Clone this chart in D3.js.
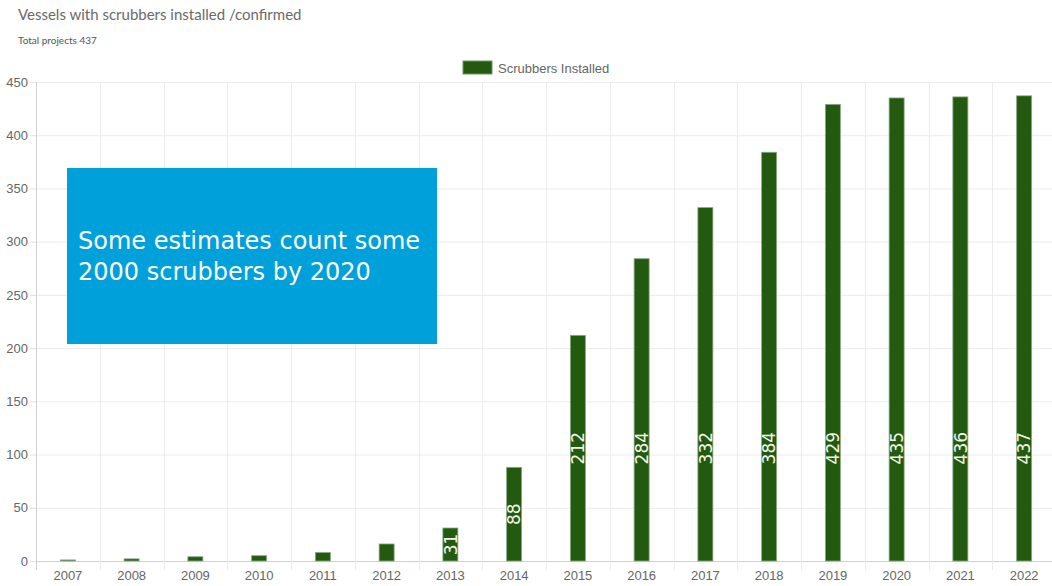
<!DOCTYPE html>
<meta charset="utf-8">
<style>
  body { margin: 0; background: #fff; }
  #chart { font-family: "Liberation Sans", Arial, sans-serif; }
</style>
<body>
<div id="chart"></div>
<script src="https://cdnjs.cloudflare.com/ajax/libs/d3/7.8.5/d3.min.js"></script>
<script>

// data
var years = ["2007","2008","2009","2010","2011","2012","2013","2014","2015","2016","2017","2018","2019","2020","2021","2022"];
var installed = [1, 2, 4, 5, 8, 16, 31, 88, 212, 284, 332, 384, 429, 435, 436, 437];
var labelled = ["2013","2014","2015","2016","2017","2018","2019","2020","2021","2022"];
var yTicks = [0, 50, 100, 150, 200, 250, 300, 350, 400, 450];

var W = 1052, H = 586;
var margin = {top: 82, right: -4, bottom: 25, left: 36},
  width = W - margin.left - margin.right,
  height = H - margin.top - margin.bottom;

var svg = d3.select("#chart").append("svg")
  .attr("width", W)
  .attr("height", H);

// titles
svg.append("text")
  .attr("x", 18).attr("y", 20)
  .style("font-family", "Lato, 'Open Sans', sans-serif")
  .style("font-size", "15px")
  .style("fill", "#6a6a6a")
  .text("Vessels with scrubbers installed /confirmed");

svg.append("text")
  .attr("x", 18).attr("y", 44)
  .style("font-family", "Lato, 'Open Sans', sans-serif")
  .style("font-size", "10px")
  .style("fill", "#555")
  .text("Total projects 437");

// legend
svg.append("rect")
  .attr("x", 463).attr("y", 61)
  .attr("width", 29).attr("height", 13)
  .style("fill", "#235a10")
  .style("stroke", "#6f9566")
  .style("stroke-width", 1);
svg.append("text")
  .attr("x", 498).attr("y", 72.5)
  .style("font-size", "13px")
  .style("fill", "#666")
  .text("Scrubbers Installed");

var g = svg.append("g")
  .attr("transform", "translate(" + margin.left + "," + margin.top + ")");

var x = d3.scaleBand()
  .domain(years)
  .range([0, width]);

var y = d3.scaleLinear()
  .domain([0, 450])
  .range([height, 0]);

// grid
g.append("g")
  .selectAll("line")
  .data(yTicks)
  .enter().append("line")
  .attr("x1", 0).attr("x2", width)
  .attr("y1", function(d) { return y(d) + 0.5; })
  .attr("y2", function(d) { return y(d) + 0.5; })
  .style("stroke", function(d) { return d == 0 ? "#d0d0d0" : "#ebebeb"; });

g.append("g")
  .selectAll("line")
  .data(years)
  .enter().append("line")
  .attr("x1", function(d) { return Math.round(x(d)) + 0.5; })
  .attr("x2", function(d) { return Math.round(x(d)) + 0.5; })
  .attr("y1", 0).attr("y2", height + 9)
  .style("stroke", function(d, i) { return i == 0 ? "#d0d0d0" : "#ebebeb"; });

// y axis labels
g.append("g")
  .call(d3.axisLeft(y).tickValues(yTicks).tickSize(6).tickPadding(2))
  .call(function(a) { a.select(".domain").remove(); })
  .call(function(a) { a.selectAll("line").style("stroke", "#e0e0e0"); })
  .call(function(a) {
    a.selectAll("text").style("font-size", "13px").style("fill", "#666")
      .style("font-family", "'Liberation Sans', Arial, sans-serif");
  });

// x axis labels
g.append("g")
  .attr("transform", "translate(0," + height + ")")
  .call(d3.axisBottom(x).tickSize(0).tickPadding(10))
  .call(function(a) { a.select(".domain").remove(); })
  .call(function(a) {
    a.selectAll("text").style("font-size", "13px").style("fill", "#666")
      .style("font-family", "'Liberation Sans', Arial, sans-serif");
  });

// bars
var bw = 15;
var rows = years.map(function(yr, i) { return {year: yr, value: installed[i]}; });

g.append("g")
  .selectAll("rect")
  .data(rows)
  .enter().append("rect")
  .attr("x", function(d) { return x(d.year) + x.bandwidth() / 2 - bw / 2; })
  .attr("y", function(d) { return y(d.value); })
  .attr("width", bw)
  .attr("height", function(d) { return y(0) - y(d.value); })
  .style("fill", "#235a10")
  .style("stroke", "#8aa884")
  .style("stroke-width", 0.8);

// value labels, rotated
g.append("g")
  .selectAll("text")
  .data(rows.filter(function(d) { return labelled.indexOf(d.year) >= 0; }))
  .enter().append("text")
  .attr("transform", function(d) {
    var cy = y(Math.min(d.value / 2, 106));
    return "translate(" + (x(d.year) + x.bandwidth() / 2) + "," + cy + ") rotate(-90)";
  })
  .attr("text-anchor", "middle")
  .attr("dy", "0.36em")
  .style("font-family", "'DejaVu Sans', Verdana, sans-serif")
  .style("font-size", "17px")
  .style("fill", "#f2f4e6")
  .text(function(d) { return d.value; });

// callout box
svg.append("rect")
  .attr("x", 67).attr("y", 168)
  .attr("width", 370).attr("height", 176)
  .style("fill", "#00a0da");

var note = svg.append("text")
  .style("font-family", "'DejaVu Sans', Verdana, sans-serif")
  .style("font-size", "24px")
  .style("fill", "#fff");
note.append("tspan").attr("x", 78).attr("y", 249).text("Some estimates count some");
note.append("tspan").attr("x", 78).attr("y", 280).text("2000 scrubbers by 2020");

</script>
